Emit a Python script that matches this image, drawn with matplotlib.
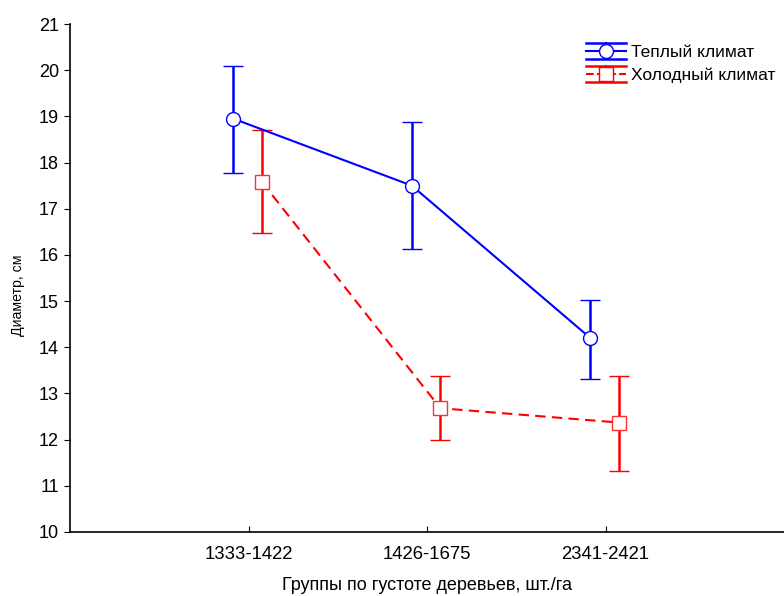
import numpy as np
import matplotlib
matplotlib.use("Agg")
import matplotlib.pyplot as plt
from matplotlib.lines import Line2D
from matplotlib.legend_handler import HandlerBase

plt.rcParams['font.family'] = ['Liberation Sans', 'DejaVu Sans']

# ----- DATA -----
groups = ["1333-1422", "1426-1675", "2341-2421"]

warm_mean = [18.95, 17.50, 14.20]
warm_low = [17.78, 16.13, 13.32]
warm_high = [20.10, 18.87, 15.02]

cold_mean = [17.58, 12.68, 12.37]
cold_low = [16.48, 12.00, 11.32]
cold_high = [18.70, 13.37, 13.37]

warm_label = "Теплый климат"
cold_label = "Холодный климат"


# legend key: line + marker with error-bar lines above and below
class ErrKeyHandler(HandlerBase):
    def create_artists(self, legend, orig_handle, xdescent, ydescent,
                       width, height, fontsize, trans):
        c = orig_handle.get_color()
        ls = orig_handle.get_linestyle()
        mk = orig_handle.get_marker()
        x0, x1 = -xdescent, -xdescent + width
        yc = -ydescent + height / 2
        dy = height * 0.68
        xm = (x0 + x1) / 2
        arts = [
            Line2D([x0, x1], [yc + dy, yc + dy], color=c, lw=1.8),
            Line2D([x0, x1], [yc - dy, yc - dy], color=c, lw=1.8),
            Line2D([xm, xm], [yc - dy, yc + dy], color=c, lw=1.5),
            Line2D([x0, x1], [yc, yc], color=c, lw=1.5, linestyle=ls),
            Line2D([xm], [yc], marker=mk, markersize=10, markerfacecolor="white",
                   markeredgecolor=c, markeredgewidth=1.0, linestyle="none"),
        ]
        for a in arts:
            a.set_transform(trans)
        return arts


# ----- PLOT -----
fig = plt.figure(figsize=(7.84, 5.96), dpi=100)
ax = fig.add_axes([0.0893, 0.1074, 0.9107, 0.8523])

x = np.arange(1, len(groups) + 1)
warm_x = x - 0.085
cold_x = x + 0.075

warm_err = [np.array(warm_mean) - np.array(warm_low), np.array(warm_high) - np.array(warm_mean)]
cold_err = [np.array(cold_mean) - np.array(cold_low), np.array(cold_high) - np.array(cold_mean)]

ax.errorbar(warm_x, warm_mean, yerr=warm_err, color="#0000ff", linestyle="-", linewidth=1.5,
            marker="o", markersize=10, markerfacecolor="white", markeredgecolor="#0000ff",
            markeredgewidth=1.0, capsize=7.5, capthick=1.8, elinewidth=1.8)
ax.errorbar(cold_x, cold_mean, yerr=cold_err, color="#ff0000", linestyle=(0, (5, 3)), linewidth=1.5,
            marker="s", markersize=10, markerfacecolor="white", markeredgecolor="#ff3030",
            markeredgewidth=1.0, capsize=7.5, capthick=1.8, elinewidth=1.8)

ax.set_xlim(0, 4)
ax.set_ylim(10, 21)
ax.set_xticks(x)
ax.set_xticklabels(groups)
ax.set_yticks(np.arange(10, 22, 1))
ax.tick_params(axis="y", direction="out", length=4, labelsize=13, pad=4)
ax.tick_params(axis="x", direction="in", length=4, labelsize=13.3, pad=10)

ax.spines["top"].set_visible(False)
ax.spines["right"].set_visible(False)
ax.spines["left"].set_linewidth(1.2)
ax.spines["bottom"].set_linewidth(1.2)

ax.set_xlabel("Группы по густоте деревьев, шт./га", fontsize=13)
ax.xaxis.label.set_va("baseline")
ax.xaxis.set_label_coords(0.5, -0.114)
ax.set_ylabel("Диаметр, см", fontsize=10.2)
ax.yaxis.label.set_va("center")
ax.yaxis.set_label_coords(-0.073, 0.467)

warm_key = Line2D([], [], color="#0000ff", linestyle="-", marker="o")
cold_key = Line2D([], [], color="#ff0000", linestyle=(0, (2.5, 2.5)), marker="s")
ax.legend([warm_key, cold_key], [warm_label, cold_label],
          handler_map={Line2D: ErrKeyHandler()},
          loc="upper right", bbox_to_anchor=(1.01, 0.99), frameon=False, fontsize=12.5,
          handlelength=2.3, handletextpad=0.3, labelspacing=0.45)

plt.savefig("out.png", dpi=100)
